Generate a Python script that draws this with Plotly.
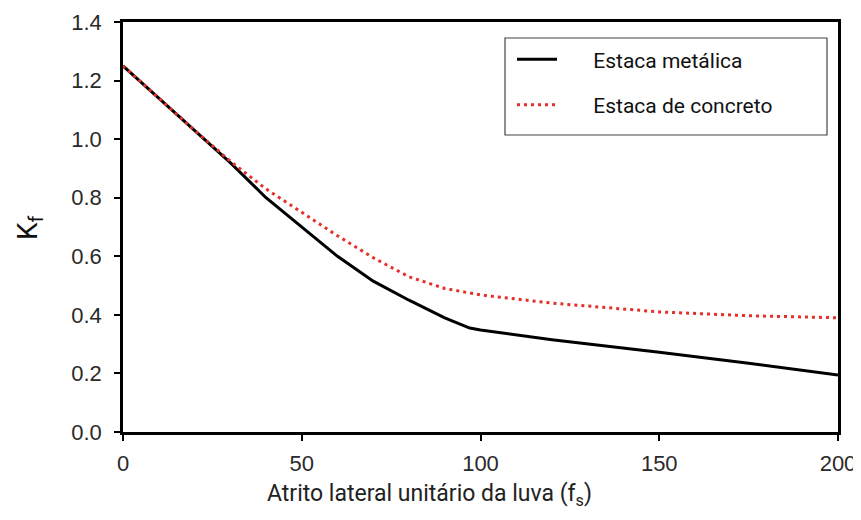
import plotly.graph_objects as go

x_metal = [0, 10, 20, 30, 40, 50, 60, 70, 80, 90, 97, 100, 120, 150, 175, 200]
y_metal = [1.25, 1.14, 1.03, 0.92, 0.80, 0.70, 0.60, 0.515, 0.45, 0.39, 0.355, 0.348, 0.315, 0.272, 0.235, 0.195]

x_conc = [0, 10, 20, 30, 40, 50, 60, 70, 80, 90, 100, 120, 150, 175, 200]
y_conc = [1.25, 1.14, 1.03, 0.925, 0.83, 0.75, 0.67, 0.595, 0.53, 0.49, 0.468, 0.44, 0.41, 0.397, 0.39]

x_ticks = [0, 50, 100, 150, 200]
y_ticks = [0.0, 0.2, 0.4, 0.6, 0.8, 1.0, 1.2, 1.4]

name_metal = "Estaca metálica"
name_conc = "Estaca de concreto"
x_title = "Atrito lateral unitário da luva (f<sub>s</sub>)"
y_title = "K<sub>f</sub>"

pad = "\u00a0" * 6
tick_font = dict(family="Liberation Sans, Arial, sans-serif", size=22, color="#2a2a2a")

fig = go.Figure()
fig.add_trace(go.Scatter(x=x_metal, y=y_metal, mode="lines", name=pad + name_metal,
                         line=dict(color="black", width=3), legendgroup="a"))
fig.add_trace(go.Scatter(x=x_conc, y=y_conc, mode="lines", name=pad + name_conc,
                         line=dict(color="#e5302a", width=3, dash="3px,4px"), legendgroup="b"))

W, H = 853, 512
fig.update_layout(
    width=W, height=H,
    margin=dict(l=115, r=23, t=14, b=88, pad=0, autoexpand=False),
    plot_bgcolor="white", paper_bgcolor="white",
    showlegend=True,
    legend=dict(x=(512 - 123) / 715, y=0.958, xanchor="left", yanchor="top",
                bgcolor="rgba(0,0,0,0)", borderwidth=0,
                font=dict(family="Roboto, sans-serif", size=21, color="#111"),
                tracegroupgap=15, itemwidth=40),
    xaxis=dict(range=[0, 200], tickvals=x_ticks, ticks="outside", ticklen=6, tickwidth=2,
               tickcolor="black", showline=True, linewidth=2.5, linecolor="black", mirror=True,
               showgrid=False, zeroline=False, tickfont=tick_font, ticklabelstandoff=4,
               automargin=False, ticklabeloverflow="allow"),
    yaxis=dict(range=[0, 1.4], tickvals=y_ticks, tickformat=".1f", ticks="outside", ticklen=6, tickwidth=2,
               tickcolor="black", showline=True, linewidth=2.5, linecolor="black", mirror=True,
               showgrid=False, zeroline=False, tickfont=tick_font, ticklabelstandoff=8,
               automargin=False, ticklabeloverflow="allow"),
    xaxis2=dict(range=[0, 200], overlaying="x", matches="x", tickvals=x_ticks, ticks="inside",
                ticklen=4, tickwidth=2, tickcolor="black", showticklabels=False, showgrid=False,
                zeroline=False, showline=False, anchor="y", automargin=False),
    yaxis2=dict(range=[0, 1.4], overlaying="y", matches="y", tickvals=y_ticks, ticks="inside",
                ticklen=4, tickwidth=2, tickcolor="black", showticklabels=False, showgrid=False,
                zeroline=False, showline=False, anchor="x", automargin=False),
    shapes=[dict(type="rect", xref="paper", yref="paper",
                 x0=(505 - 123) / 715, x1=(827 - 123) / 715,
                 y0=(432 - 135) / 410, y1=(432 - 38) / 410,
                 line=dict(color="#444", width=1.2), fillcolor="rgba(0,0,0,0)")],
    annotations=[
        dict(text=x_title, xref="paper", yref="paper", x=(429 - 123) / 715, y=(432 - 495) / 410,
             xanchor="center", yanchor="middle", showarrow=False,
             font=dict(family="Roboto, sans-serif", size=23, color="#222")),
        dict(text=y_title, xref="paper", yref="paper", x=(29 - 123) / 715, y=(432 - 228) / 410,
             xanchor="center", yanchor="middle", showarrow=False, textangle=-90,
             font=dict(family="Roboto, sans-serif", size=28, color="#111")),
    ],
)

fig.write_html("out.html")
